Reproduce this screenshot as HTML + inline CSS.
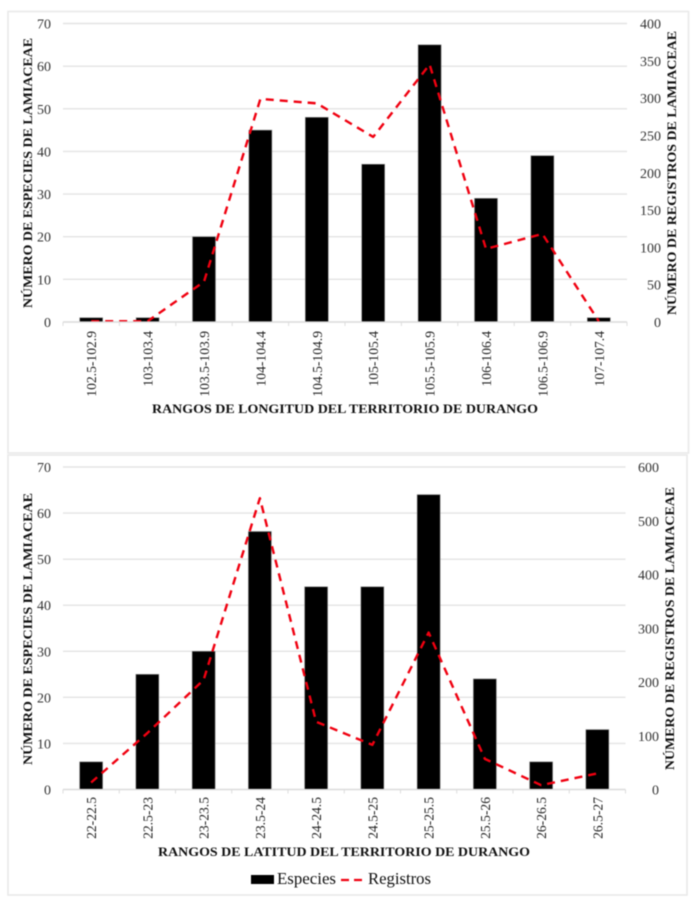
<!DOCTYPE html>
<html lang="es">
<head>
<meta charset="utf-8">
<title>Lamiaceae de Durango</title>
<style>
html,body{margin:0;padding:0;background:#fff;}
svg{display:block;font-family:"Liberation Serif",serif;filter:blur(0.4px);}
</style>
</head>
<body>
<svg id="figure" xmlns="http://www.w3.org/2000/svg" width="694" height="900" viewBox="0 0 694 900">
  <rect x="0" y="0" width="694" height="900" fill="#ffffff"/>
  <rect x="8" y="11.5" width="680.5" height="441.5" fill="#ffffff" stroke="#e9e9e9" stroke-width="1.6"/>
  <rect x="8" y="455" width="679" height="440" fill="#ffffff" stroke="#e9e9e9" stroke-width="1.6"/>
  <g id="chart-longitude"></g>
  <g id="chart-latitude"></g>

  <text transform="translate(32,173) rotate(-90)" text-anchor="middle" font-size="12.5" font-weight="bold" fill="#111111" textLength="270" lengthAdjust="spacingAndGlyphs">NÚMERO DE ESPECIES DE LAMIACEAE</text>
  <text transform="translate(676,173) rotate(-90)" text-anchor="middle" font-size="12.5" font-weight="bold" fill="#111111" textLength="284" lengthAdjust="spacingAndGlyphs">NÚMERO DE REGISTROS DE LAMIACEAE</text>
  <text x="345" y="413" text-anchor="middle" font-size="12.5" font-weight="bold" fill="#111111" textLength="386" lengthAdjust="spacingAndGlyphs">RANGOS DE LONGITUD DEL TERRITORIO DE DURANGO</text>

  <text transform="translate(32,629) rotate(-90)" text-anchor="middle" font-size="12.5" font-weight="bold" fill="#111111" textLength="272" lengthAdjust="spacingAndGlyphs">NÚMERO DE ESPECIES DE LAMIACEAE</text>
  <text transform="translate(674,628.5) rotate(-90)" text-anchor="middle" font-size="12.5" font-weight="bold" fill="#111111" textLength="283" lengthAdjust="spacingAndGlyphs">NÚMERO DE REGISTROS DE LAMIACEAE</text>
  <text x="344" y="856" text-anchor="middle" font-size="12.5" font-weight="bold" fill="#111111" textLength="372" lengthAdjust="spacingAndGlyphs">RANGOS DE LATITUD DEL TERRITORIO DE DURANGO</text>

  <g>
    <rect x="251" y="875" width="23" height="9" fill="#000000"/>
    <text x="277" y="884" font-size="16.5" fill="#111111" textLength="59" lengthAdjust="spacingAndGlyphs">Especies</text>
    <line x1="341" y1="880" x2="362" y2="880" stroke="#f00010" stroke-width="2.3" stroke-dasharray="8 5"/>
    <text x="368" y="884" font-size="16.5" fill="#111111" textLength="63" lengthAdjust="spacingAndGlyphs">Registros</text>
  </g>
</svg>
<script>
var longitudeCategories = ["102.5-102.9","103-103.4","103.5-103.9","104-104.4","104.5-104.9","105-105.4","105.5-105.9","106-106.4","106.5-106.9","107-107.4"];
var longitudeEspecies = [1,1,20,45,48,37,65,29,39,1];
var longitudeRegistros = [1,1,54,299,293,248,345,98,118,1];
var longitudeLeftTicks = [0,10,20,30,40,50,60,70];
var longitudeRightTicks = [0,50,100,150,200,250,300,350,400];

var latitudeCategories = ["22-22.5","22.5-23","23-23.5","23.5-24","24-24.5","24.5-25","25-25.5","25.5-26","26-26.5","26.5-27"];
var latitudeEspecies = [6,25,30,56,44,44,64,24,6,13];
var latitudeRegistros = [13,105,204,542,126,83,292,57,8,30];
var latitudeLeftTicks = [0,10,20,30,40,50,60,70];
var latitudeRightTicks = [0,100,200,300,400,500,600];

var SVG_NS = "http://www.w3.org/2000/svg";

function make(parent, tag, attrs) {
  var el = document.createElementNS(SVG_NS, tag);
  for (var k in attrs) { el.setAttribute(k, attrs[k]); }
  parent.appendChild(el);
  return el;
}

function drawChart(groupId, box, categories, especies, registros, leftTicks, rightTicks) {
  var g = document.getElementById(groupId);
  var leftMax = leftTicks[leftTicks.length - 1];
  var rightMax = rightTicks[rightTicks.length - 1];
  var step = (box.right - box.left) / categories.length;
  function xBand(i) { return box.left + step * (i + 0.5); }
  function yLeft(v) { return box.bottom - (box.bottom - box.top) * v / leftMax; }
  function yRight(v) { return box.bottom - (box.bottom - box.top) * v / rightMax; }

  leftTicks.forEach(function (t) {
    var grid = make(g, "line", {x1: box.left, x2: box.right, y1: yLeft(t), y2: yLeft(t), stroke: "#e3e3e3", "stroke-width": 1.4});
    
    
    var label = make(g, "text", {x: 51, y: yLeft(t) + 5, "text-anchor": "end", "font-size": 14, fill: "#333333"});
    label.textContent = t;
    
    
  });

  rightTicks.forEach(function (t) {
    var label = make(g, "text", {x: box.rightLabelX, y: yRight(t) + 5, "text-anchor": "end", "font-size": 14, fill: "#333333"});
    label.textContent = t;
    
    
  });

  for (var i = 0; i <= categories.length; i++) {
    var tick = make(g, "line", {x1: box.left + step * i, x2: box.left + step * i, y1: box.bottom, y2: box.bottom + 4, stroke: "#dddddd", "stroke-width": 1});
    
    
  }

  especies.forEach(function (v, i) {
    var bar = make(g, "rect", {x: xBand(i) - 11.5, y: yLeft(v), width: 23, height: box.bottom - yLeft(v), fill: "#000000", stroke: "#8a8a8a", "stroke-width": 0.6});
    
    
  });

  categories.forEach(function (c, i) {
    var label = make(g, "text", {transform: "translate(" + (xBand(i) + 5) + "," + box.labelTop + ") rotate(-90)", "text-anchor": "end", "font-size": 13.6, fill: "#222222"});
    label.textContent = c;
    
    
  });

  var pts = registros.map(function (v, i) { return xBand(i) + "," + yRight(v); }).join(" ");
  var line = make(g, "polyline", {points: pts, fill: "none", stroke: "#f00010", "stroke-width": 2.4, "stroke-dasharray": "8 6", "stroke-linejoin": "round"});
  
  

  var axis = make(g, "line", {x1: box.left, x2: box.right, y1: box.bottom, y2: box.bottom, stroke: "#dcdcdc", "stroke-width": 1.2});
  
  
}

drawChart("chart-longitude", {left: 63, right: 627, top: 23.5, bottom: 322, rightLabelX: 661, labelTop: 331}, longitudeCategories, longitudeEspecies, longitudeRegistros, longitudeLeftTicks, longitudeRightTicks);
drawChart("chart-latitude", {left: 63, right: 625.5, top: 467, bottom: 789.5, rightLabelX: 659, labelTop: 797}, latitudeCategories, latitudeEspecies, latitudeRegistros, latitudeLeftTicks, latitudeRightTicks);
</script>
</body>
</html>
